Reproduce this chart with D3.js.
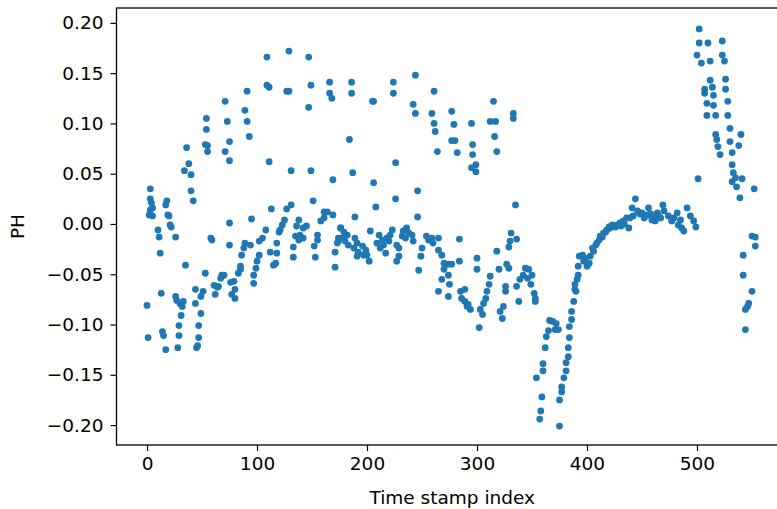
<!DOCTYPE html>
<html>
<head>
<meta charset="utf-8">
<script src="https://cdn.jsdelivr.net/npm/d3@7"></script>
<style>
  html, body { margin: 0; padding: 0; background: #fff; }
  svg { display: block; }
  text { font-family: "DejaVu Sans", sans-serif; fill: #000; }
</style>
</head>
<body>
<svg id="chart" width="777" height="509"></svg>
<script>
// ---- data (index, PH) ----
const pointsA = [[71,0.122],[54,0.105],[73,0.102],[54,0.094],[75,0.082],[53,0.079],[55,0.078],[55,0.072],[36,0.076],[71,0.072],[75,0.063],[38,0.060],[34,0.053],[40,0.049],[3,0.035],[40,0.033],[3,0.025],[4,0.021],[3,0.014],[2,0.009],[5,0.008],[5,0.016],[18,0.023],[17,0.019],[42,0.023],[19,0.009],[20,0.008],[21,-0.001],[22,-0.003],[10,-0.006],[11,-0.013],[26,-0.013],[58,-0.014],[59,-0.016],[75,0.001],[75,-0.021],[12,-0.029],[35,-0.041],[53,-0.049],[68,-0.051],[70,-0.051],[67,-0.054],[61,-0.061],[64,-0.063],[62,-0.070],[65,-0.062],[76,-0.058],[77,-0.070],[13,-0.069],[0,-0.081],[26,-0.072],[27,-0.076],[30,-0.079],[33,-0.077],[32,-0.082],[44,-0.065],[51,-0.067],[49,-0.072],[44,-0.079],[31,-0.091],[49,-0.089],[29,-0.101],[29,-0.111],[28,-0.123],[47,-0.101],[47,-0.113],[46,-0.121],[45,-0.123],[14,-0.107],[15,-0.111],[17,-0.125],[1,-0.113]];
const pointsB = [[109,0.166],[129,0.172],[147,0.166],[91,0.132],[109,0.138],[111,0.136],[127,0.132],[129,0.132],[149,0.138],[166,0.141],[166,0.130],[168,0.125],[147,0.116],[89,0.113],[91,0.102],[93,0.087],[111,0.062],[131,0.053],[149,0.053],[169,0.044],[151,0.023],[113,0.015],[127,0.015],[131,0.019],[161,0.012],[164,0.012],[169,0.009],[158,0.003],[161,0.006],[95,0.005],[125,0.004],[123,-0.001],[121,-0.006],[120,-0.008],[138,0.004],[136,-0.002],[142,-0.004],[145,-0.002],[139,-0.011],[135,-0.012],[142,-0.014],[138,-0.016],[155,-0.011],[155,-0.016],[152,-0.022],[153,-0.033],[133,-0.023],[133,-0.033],[176,-0.004],[174,-0.014],[173,-0.019],[171,-0.028],[171,-0.043],[108,-0.006],[105,-0.014],[102,-0.017],[89,-0.019],[94,-0.021],[88,-0.024],[86,-0.031],[112,-0.028],[118,-0.029],[118,-0.019],[115,-0.041],[117,-0.039],[102,-0.031],[100,-0.037],[99,-0.044],[97,-0.051],[97,-0.059],[85,-0.042],[85,-0.045],[83,-0.049],[79,-0.057],[80,-0.065],[80,-0.074]];
const pointsC = [[186,0.141],[186,0.130],[205,0.122],[206,0.122],[224,0.141],[224,0.130],[244,0.148],[261,0.132],[242,0.119],[244,0.110],[259,0.110],[261,0.100],[262,0.092],[264,0.072],[277,0.112],[277,0.083],[184,0.084],[226,0.061],[187,0.051],[206,0.041],[246,0.033],[226,0.025],[208,0.017],[189,0.007],[246,0.007],[176,-0.004],[179,-0.008],[182,-0.011],[177,-0.014],[174,-0.017],[180,-0.017],[183,-0.021],[189,-0.014],[191,-0.019],[188,-0.024],[192,-0.028],[191,-0.032],[196,-0.022],[199,-0.026],[200,-0.031],[202,-0.037],[197,-0.031],[203,-0.007],[211,-0.011],[209,-0.019],[212,-0.024],[215,-0.021],[217,-0.029],[220,-0.017],[218,-0.014],[221,-0.011],[223,-0.006],[214,-0.016],[227,-0.021],[229,-0.024],[229,-0.032],[227,-0.037],[232,-0.012],[233,-0.007],[236,-0.004],[238,-0.009],[235,-0.014],[241,-0.011],[242,-0.017],[250,-0.024],[249,-0.032],[247,-0.046],[254,-0.012],[256,-0.016],[259,-0.014],[265,-0.014],[260,-0.019],[265,-0.026],[268,-0.031],[270,-0.039],[270,-0.045],[274,-0.040],[274,-0.051],[268,-0.055],[265,-0.067],[274,-0.072],[277,-0.040]];
const pointsD = [[315,0.122],[279,0.099],[295,0.100],[312,0.102],[317,0.102],[333,0.110],[333,0.105],[280,0.083],[282,0.071],[296,0.079],[296,0.069],[295,0.056],[299,0.059],[299,0.052],[316,0.087],[318,0.072],[335,0.019],[331,-0.009],[336,-0.015],[330,-0.017],[329,-0.023],[318,-0.027],[284,-0.015],[284,-0.037],[300,-0.034],[300,-0.045],[275,-0.060],[285,-0.067],[289,-0.065],[286,-0.074],[289,-0.077],[292,-0.080],[294,-0.085],[291,-0.082],[312,-0.052],[311,-0.060],[309,-0.067],[308,-0.074],[306,-0.079],[303,-0.085],[305,-0.090],[302,-0.103],[320,-0.045],[327,-0.040],[329,-0.044],[326,-0.062],[326,-0.067],[324,-0.082],[321,-0.087],[323,-0.094],[344,-0.044],[347,-0.045],[342,-0.051],[346,-0.054],[350,-0.051],[339,-0.055],[336,-0.062],[349,-0.060],[352,-0.069],[353,-0.074],[353,-0.077],[338,-0.077]];
const pointsE = [[390,-0.067],[388,-0.077],[386,-0.087],[386,-0.095],[384,-0.102],[384,-0.113],[383,-0.123],[383,-0.132],[381,-0.138],[381,-0.146],[379,-0.153],[377,-0.162],[377,-0.167],[375,-0.175],[375,-0.201],[366,-0.096],[369,-0.097],[372,-0.099],[365,-0.106],[371,-0.105],[374,-0.105],[363,-0.112],[362,-0.123],[360,-0.139],[360,-0.146],[354,-0.153],[359,-0.172],[358,-0.186],[357,-0.194]];
const pointsF = [[389,-0.065],[389,-0.060],[391,-0.055],[392,-0.051],[392,-0.042],[393,-0.032],[396,-0.031],[397,-0.037],[398,-0.034],[400,-0.042],[402,-0.039],[403,-0.032],[405,-0.024],[406,-0.027],[408,-0.021],[409,-0.019],[411,-0.016],[412,-0.012],[414,-0.013],[415,-0.009],[417,-0.008],[418,-0.006],[420,-0.003],[421,-0.004],[423,-0.001],[425,-0.002],[426,-0.003],[428,-0.001],[430,0.001],[431,-0.002],[433,0.003],[434,0.000],[436,0.006],[438,-0.004],[439,0.006],[441,0.016],[442,0.008],[444,0.025],[446,0.013],[448,0.010],[450,0.011],[452,0.006],[453,0.008],[455,0.009],[456,0.016],[458,0.010],[459,0.004],[461,0.007],[462,0.003],[464,0.011],[465,0.008],[467,0.006],[469,0.019],[470,0.013],[474,0.008],[477,0.004]];
const pointsG = [[479,0.006],[482,0.011],[485,0.004],[486,-0.004],[488,-0.007],[491,0.016],[494,0.008],[497,0.003],[499,-0.003],[483,-0.001],[477,0.003],[501,0.045],[502,0.194],[502,0.180],[510,0.180],[523,0.182],[500,0.168],[504,0.160],[512,0.162],[523,0.168],[525,0.162],[512,0.143],[514,0.136],[507,0.134],[507,0.130],[515,0.128],[526,0.144],[526,0.134],[528,0.122],[528,0.108],[509,0.120],[515,0.118],[509,0.108],[517,0.108],[530,0.095],[530,0.082],[532,0.071],[540,0.089],[538,0.078],[517,0.089],[518,0.084],[519,0.077],[521,0.069],[532,0.059],[533,0.051],[535,0.046],[532,0.042],[541,0.045],[536,0.037],[539,0.026],[552,0.035],[550,-0.012],[553,-0.013],[553,-0.022],[542,-0.031],[542,-0.051],[550,-0.067],[547,-0.079],[546,-0.082],[544,-0.085],[544,-0.105]];

const xTicks = [0, 100, 200, 300, 400, 500];
const yTicks = [-0.20, -0.15, -0.10, -0.05, 0.00, 0.05, 0.10, 0.15, 0.20];
const xLabel = "Time stamp index";
const yLabel = "PH";

const allPoints = [].concat(pointsA, pointsB, pointsC, pointsD, pointsE, pointsF, pointsG);
const xIndex = allPoints.map(d => d[0]);
const phValues = allPoints.map(d => d[1]);

// ---- layout ----
const plotL = 116.5, plotR = 788, plotT = 8, plotB = 445;
const fontSize = 18.5;

const svg = d3.select("#chart");
const x = d3.scaleLinear().domain([-27.75, 582.75]).range([plotL, plotR]);
const y = d3.scaleLinear().domain([-0.2198, 0.2148]).range([plotB, plotT]);

// points
svg.append("g")
  .selectAll("circle")
  .data(xIndex.map((v, i) => [v, phValues[i]]))
  .join("circle")
  .attr("cx", d => x(d[0]))
  .attr("cy", d => y(d[1]))
  .attr("r", 3.4)
  .attr("fill", "#1f77b4");

// axes
const fmtY = d3.format(".2f");
const xAxis = d3.axisBottom(x).tickValues(xTicks).tickSize(6).tickPadding(6).tickFormat(d3.format("d"));
const yAxis = d3.axisLeft(y).tickValues(yTicks).tickSize(6).tickPadding(7).tickFormat(fmtY);

const gx = svg.append("g").attr("transform", `translate(0,${plotB})`).call(xAxis);
const gy = svg.append("g").attr("transform", `translate(${plotL},0)`).call(yAxis);
[gx, gy].forEach(g => {
  g.select(".domain").remove();
  g.selectAll(".tick line").attr("stroke", "#000").attr("stroke-width", 1.2);
  g.selectAll(".tick text").attr("font-size", fontSize).attr("font-family", "DejaVu Sans").attr("fill", "#1a1a1a");
});

// frame
svg.append("rect")
  .attr("x", plotL).attr("y", plotT)
  .attr("width", plotR - plotL).attr("height", plotB - plotT)
  .attr("fill", "none").attr("stroke", "#000").attr("stroke-width", 1.3);

// labels
svg.append("text")
  .attr("x", (plotL + plotR) / 2).attr("y", 504)
  .attr("text-anchor", "middle").attr("font-size", fontSize).attr("fill", "#1a1a1a")
  .text(xLabel);

svg.append("text")
  .attr("transform", `translate(24,${(plotT + plotB) / 2}) rotate(-90)`)
  .attr("text-anchor", "middle").attr("font-size", fontSize).attr("fill", "#1a1a1a")
  .text(yLabel);
</script>
</body>
</html>
